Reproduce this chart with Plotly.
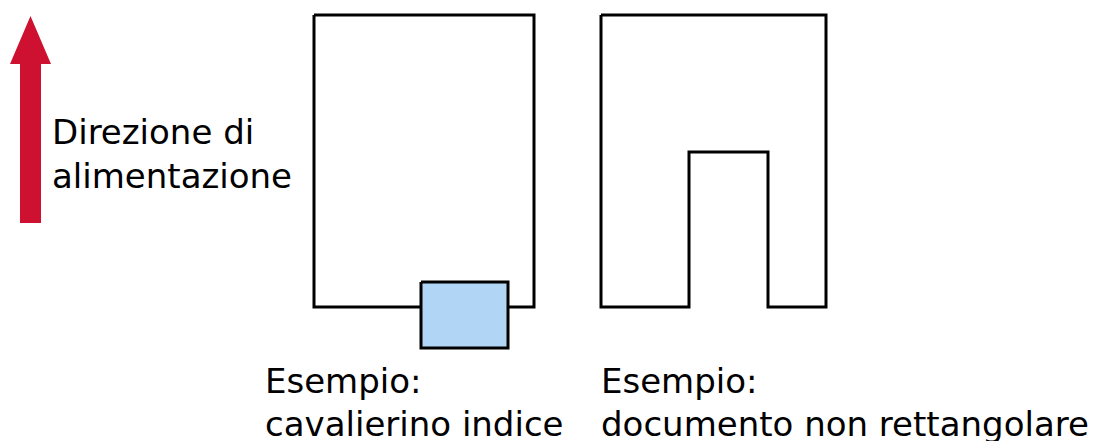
import plotly.graph_objects as go

# geometry of the diagram in pixel units (y grows downwards)
arrow_x = [20, 20, 10, 30.5, 51, 41, 41, 20]
arrow_y = [223, 64, 64, 16, 64, 64, 223, 223]

page_x = [314, 534, 534, 314, 314]
page_y = [15, 15, 307, 307, 15]

tab_x = [421, 508, 508, 421, 421]
tab_y = [282, 282, 348, 348, 282]

notch_x = [601, 826, 826, 768, 768, 689, 689, 601, 601]
notch_y = [15, 15, 307, 307, 152, 152, 307, 307, 15]

# one entry per text line: text, left x, baseline y
label_text = ["Direzione di", "alimentazione", "Esempio:", "cavalierino indice",
              "Esempio:", "documento non rettangolare"]
label_x = [51, 51, 264, 264, 600, 600]
label_y = [143, 187, 392, 435, 392, 435]

fig = go.Figure()
fig.add_trace(go.Scatter(x=arrow_x, y=arrow_y, mode="lines", fill="toself",
                         fillcolor="#CE1131", line=dict(color="#CE1131", width=0)))
fig.add_trace(go.Scatter(x=page_x, y=page_y, mode="lines",
                         line=dict(color="black", width=3)))
fig.add_trace(go.Scatter(x=tab_x, y=tab_y, mode="lines", fill="toself",
                         fillcolor="#B1D5F5", line=dict(color="black", width=3)))
fig.add_trace(go.Scatter(x=notch_x, y=notch_y, mode="lines",
                         line=dict(color="black", width=3)))

for text, x, y in zip(label_text, label_x, label_y):
    fig.add_annotation(text=text, x=x, y=y - 11, xref="x", yref="y", xanchor="left",
                       yanchor="middle", align="left", showarrow=False, borderpad=0,
                       font=dict(family="DejaVu Sans", size=34, color="black"))

# the page body has an 8px margin, so the figure starts at (8, 8)
fig.update_layout(
    width=1103, height=433, margin=dict(l=0, r=0, t=0, b=0),
    paper_bgcolor="white", plot_bgcolor="white", showlegend=False,
    xaxis=dict(range=[8, 1111], visible=False, fixedrange=True),
    yaxis=dict(range=[441, 8], visible=False, fixedrange=True),
)

fig.write_html("out.html")
